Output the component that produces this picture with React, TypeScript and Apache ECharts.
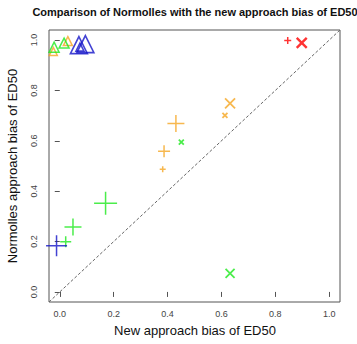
import React, { useEffect, useRef } from "react";
import * as echarts from "echarts";

// ---- data ----
const xTicks = [0, 0.2, 0.4, 0.6, 0.8, 1.0];
const yTicks = [0, 0.2, 0.4, 0.6, 0.8, 1.0];

const redPlusX = [0.846];
const redPlusY = [0.998];
const redCrossX = [0.898];
const redCrossY = [0.989];

const orangePlusX = [0.431, 0.387, 0.382];
const orangePlusY = [0.669, 0.559, 0.487];
const orangeCrossX = [0.632, 0.613];
const orangeCrossY = [0.749, 0.701];
const orangeTriX = [-0.024, 0.03];
const orangeTriY = [0.955, 0.996];

const greenPlusX = [0.17, 0.049, 0.022];
const greenPlusY = [0.352, 0.258, 0.199];
const greenCrossX = [0.451, 0.632];
const greenCrossY = [0.595, 0.074];
const greenTriX = [-0.021, 0.016];
const greenTriY = [0.972, 0.988];

const bluePlusX = [-0.012];
const bluePlusY = [0.183];
const blueTriX = [0.071, 0.075, 0.095];
const blueTriY = [0.98, 0.972, 0.984];

// marker sizes (pixels) per point, in the same order as above
const redPlusSize = [7];
const redCrossSize = [10];
const orangePlusSize = [17, 12, 6];
const orangeCrossSize = [10, 5];
const orangeTriSize = [8, 9];
const greenPlusSize = [23, 17, 11];
const greenCrossSize = [5, 9];
const greenTriSize = [10, 10];
const bluePlusSize = [21];
const blueTriSize = [17, 8, 17];

const RED = "#ff0000";
const ORANGE = "#f5a623";
const GREEN = "#1ee81e";
const BLUE = "#1414c8";

const PLUS = "path://M0,5L10,5M5,0L5,10";
const CROSS = "path://M0,0L10,10M10,0L0,10";

const zip = (xs: number[], ys: number[], ss: number[]) =>
  xs.map((x, i) => [x, ys[i], ss[i]]);

const FONT = "'Liberation Sans', Arial, sans-serif";

export default function App() {
  const ref = useRef<HTMLDivElement>(null);
  useEffect(() => {
    if (!ref.current) return;
    const chart = echarts.init(ref.current, null, { renderer: "svg" });

    const L = 49, T = 30, W = 291, H = 272;
    const lo = -0.04, hi = 1.04;
    const pxX = W / (hi - lo);
    const pxY = H / (hi - lo);
    const x0 = L + (0 - lo) * pxX;
    const y1 = T + (hi - 1) * pxY;

    const sc = (
      name: string,
      symbol: string,
      color: string,
      data: number[][],
      width = 1.5
    ) => ({
      name,
      type: "scatter",
      xAxisIndex: 0,
      yAxisIndex: 0,
      symbol,
      symbolSize: (v: number[]) => v[2],
      data,
      itemStyle: { color: "rgba(0,0,0,0)", borderColor: color, borderWidth: width },
      emphasis: { disabled: true },
      z: 3,
    });

    chart.setOption({
      animation: false,
      textStyle: { fontFamily: FONT },
      grid: [
        { left: L, top: T, width: W, height: H, show: true, borderColor: "#555", borderWidth: 1, backgroundColor: "transparent" },
        { left: x0, top: y1, width: pxX, height: pxY, show: false },
      ],
      xAxis: [
        { gridIndex: 0, type: "value", min: lo, max: hi, show: false },
        {
          gridIndex: 1, type: "value", min: 0, max: 1, interval: 0.2,
          offset: T + H - (y1 + pxY),
          axisLine: { show: false },
          axisTick: { show: true, length: 5, lineStyle: { color: "#555" } },
          axisLabel: { fontSize: 9, color: "#444", margin: 7, formatter: (v: number) => v.toFixed(1), fontFamily: FONT },
          splitLine: { show: false },
        },
      ],
      yAxis: [
        { gridIndex: 0, type: "value", min: lo, max: hi, show: false },
        {
          gridIndex: 1, type: "value", min: 0, max: 1, interval: 0.2,
          offset: x0 - L,
          axisLine: { show: false },
          axisTick: { show: true, length: 5, lineStyle: { color: "#555" } },
          axisLabel: { fontSize: 9, color: "#444", margin: 11, rotate: 90, formatter: (v: number) => v.toFixed(1), fontFamily: FONT },
          splitLine: { show: false },
        },
      ],
      graphic: [
        { type: "text", x: 195, y: 12, style: { text: "Comparison of Normolles with the new approach bias of ED50", fontSize: 11, fontWeight: "bold", fill: "#111", textAlign: "center", textVerticalAlign: "middle", fontFamily: FONT } },
        { type: "text", x: 195, y: 330, style: { text: "New approach bias of ED50", fontSize: 13, fill: "#111", textAlign: "center", textVerticalAlign: "middle", fontFamily: FONT } },
        { type: "text", x: 12, y: 166, rotation: Math.PI / 2, style: { text: "Normolles approach bias of ED50", fontSize: 13, fill: "#111", textAlign: "center", textVerticalAlign: "middle", fontFamily: FONT } },
      ],
      series: [
        {
          type: "line", xAxisIndex: 0, yAxisIndex: 0, symbol: "none",
          data: [[lo, lo], [hi, hi]],
          lineStyle: { color: "#666", width: 1, type: [3, 2] },
          silent: true, z: 1,
        },
        sc("redPlus", PLUS, RED, zip(redPlusX, redPlusY, redPlusSize)),
        sc("redCross", CROSS, RED, zip(redCrossX, redCrossY, redCrossSize), 2.4),
        sc("orangePlus", PLUS, ORANGE, zip(orangePlusX, orangePlusY, orangePlusSize)),
        sc("orangeCross", CROSS, ORANGE, zip(orangeCrossX, orangeCrossY, orangeCrossSize), 1.8),
        sc("orangeTri", "triangle", ORANGE, zip(orangeTriX, orangeTriY, orangeTriSize)),
        sc("greenPlus", PLUS, GREEN, zip(greenPlusX, greenPlusY, greenPlusSize)),
        sc("greenCross", CROSS, GREEN, zip(greenCrossX, greenCrossY, greenCrossSize), 1.8),
        sc("greenTri", "triangle", GREEN, zip(greenTriX, greenTriY, greenTriSize)),
        sc("bluePlus", PLUS, BLUE, zip(bluePlusX, bluePlusY, bluePlusSize)),
        sc("blueTri", "triangle", BLUE, zip(blueTriX, blueTriY, blueTriSize), 1.6),
      ],
    });
    return () => chart.dispose();
  }, []);
  return <div ref={ref} style={{ width: 357, height: 344, position: "absolute", left: 0, top: 0 }} />;
}
